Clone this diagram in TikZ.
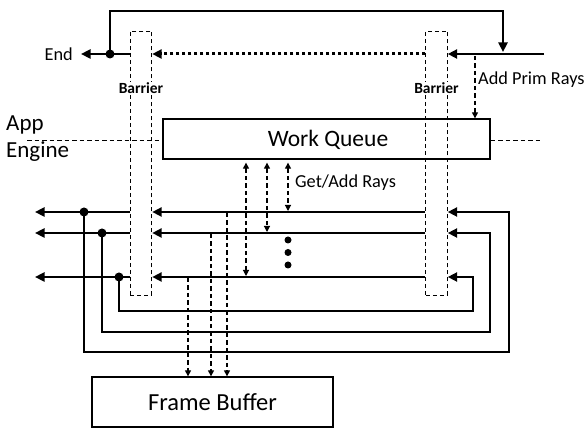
\documentclass[tikz,border=0pt]{standalone}
\usepackage{fontspec}
\setmainfont{Carlito}
\usetikzlibrary{arrows.meta}
\begin{document}
\begin{tikzpicture}[x=1pt,y=-1pt,
  thk/.style={line width=2.8pt},
  bigtip/.style={-{Triangle[length=9.5pt,width=9pt]}},
  dsh/.style={line width=1.1pt, dash pattern=on 4.5pt off 3pt},
  smalltip/.style={-{Triangle[length=6pt,width=6pt]}},
  bothtip/.style={{Triangle[length=6pt,width=6pt]}-{Triangle[length=6pt,width=6pt]}},
  dotline/.style={line width=3pt, dash pattern=on 3pt off 3pt},
  barrierbox/.style={draw, line width=0.9pt, dash pattern=on 4pt off 3pt, minimum width=21.5pt, minimum height=264pt, inner sep=0pt},
  blabel/.style={font=\fontsize{15.5}{18}\selectfont\bfseries, fill=white, inner sep=1pt},
  sbox/.style={draw, line width=1.3pt, inner sep=0pt},
  lbl/.style={font=\fontsize{18.3}{21}\selectfont, inner sep=0pt, anchor=west},
  bigl/.style={font=\fontsize{23}{27}\selectfont, inner sep=0pt, anchor=west},
  jdot/.style={circle, fill=black, minimum size=9pt, inner sep=0pt},
  edot/.style={circle, fill=black, minimum size=7pt, inner sep=0pt}
]
\useasboundingbox (0,0) rectangle (587,430);

% boxes
\node[sbox, minimum width=327pt, minimum height=40pt] (WQ) at (326.5,139) {};
\node[font=\fontsize{23.5}{27}\selectfont, inner sep=0pt] (WQt) at (328,139.5) {Work Queue};
\node[sbox, minimum width=241pt, minimum height=50pt, font=\fontsize{24.5}{28}\selectfont] (FB) at (212.5,402) {Frame Buffer};

% barriers
\node[barrierbox] (LB) at (141,163) {};
\node[barrierbox] (RB) at (436.5,163) {};
\node[blabel] (LBt) at (141,88) {Barrier};
\node[blabel] (RBt) at (436.5,88) {Barrier};

% App / Engine
\node[bigl] (app) at (6,125) {App};
\node[bigl] (eng) at (6,152) {Engine};
\coordinate (dl) at (27,140);
\coordinate (dr) at (543,140);
\draw[dsh, line width=0.9pt] (dl) -- (WQ.west |- dl);
\draw[dsh, line width=0.9pt] (WQ.east |- dr) -- (dr);

% top section
\coordinate (ytop) at (0,54);
\coordinate (endtip) at (81,54);
\coordinate (inR) at (544,54);
\node[jdot] (jTop) at (110,54) {};
\coordinate (c1) at (110,11);
\coordinate (c2) at (503,11);
\coordinate (c3) at (503,52);
\node[lbl, anchor=east] (endt) at (73,54) {End};
\draw[thk, bigtip] (LB.west |- ytop) -- (endtip);
\draw[thk, bigtip] (jTop.center) -- (c1) -- (c2) -- (c3);
\draw[thk, bigtip] (inR) -- (RB.east |- ytop);
\draw[dotline, bigtip] (RB.west |- ytop) -- (LB.east |- ytop);

% add prim rays
\coordinate (ap) at (475,56);
\draw[dsh, smalltip] (ap) -- (WQ.north -| ap);
\node[lbl] (apt) at (478,80) {Add Prim Rays};

% get/add rays
\coordinate (y1) at (0,212);
\coordinate (y2) at (0,233);
\coordinate (y3) at (0,277);
\coordinate (g1) at (288,211);
\coordinate (g2) at (267,232);
\coordinate (g3) at (246,276);
\draw[dsh, bothtip, shorten <=3pt] (WQ.south -| g1) -- (g1);
\draw[dsh, bothtip, shorten <=3pt] (WQ.south -| g2) -- (g2);
\draw[dsh, bothtip, shorten <=3pt] (WQ.south -| g3) -- (g3);
\node[lbl] (gat) at (295,183) {Get/Add Rays};
\node[edot] (e1) at (288,240) {};
\node[edot] (e2) at (288,252.5) {};
\node[edot] (e3) at (288,265) {};

% horizontal lanes
\coordinate (o1) at (35,212);
\coordinate (o2) at (35,233);
\coordinate (o3) at (35,277);
\draw[thk, bigtip] (RB.west |- y1) -- (LB.east |- y1);
\draw[thk, bigtip] (RB.west |- y2) -- (LB.east |- y2);
\draw[thk, bigtip] (RB.west |- y3) -- (LB.east |- y3);
\draw[thk, bigtip] (LB.west |- y1) -- (o1);
\draw[thk, bigtip] (LB.west |- y2) -- (o2);
\draw[thk, bigtip] (LB.west |- y3) -- (o3);

% loops back
\node[jdot] (j1) at (84,212) {};
\node[jdot] (j2) at (102,233) {};
\node[jdot] (j3) at (119,277) {};
\coordinate (b1) at (84,352);
\coordinate (b2) at (102,332);
\coordinate (b3) at (119,311);
\coordinate (r1) at (509,352);
\coordinate (r2) at (490,332);
\coordinate (r3) at (473,311);
\draw[thk, bigtip] (j1.center) -- (b1) -- (r1) -- (r1 |- y1) -- (RB.east |- y1);
\draw[thk, bigtip] (j2.center) -- (b2) -- (r2) -- (r2 |- y2) -- (RB.east |- y2);
\draw[thk, bigtip] (j3.center) -- (b3) -- (r3) -- (r3 |- y3) -- (RB.east |- y3);

% to frame buffer
\coordinate (f1) at (227,213);
\coordinate (f2) at (211,234);
\coordinate (f3) at (188,278);
\draw[dsh, smalltip] (f1) -- (FB.north -| f1);
\draw[dsh, smalltip] (f2) -- (FB.north -| f2);
\draw[dsh, smalltip] (f3) -- (FB.north -| f3);
\end{tikzpicture}
\end{document}
